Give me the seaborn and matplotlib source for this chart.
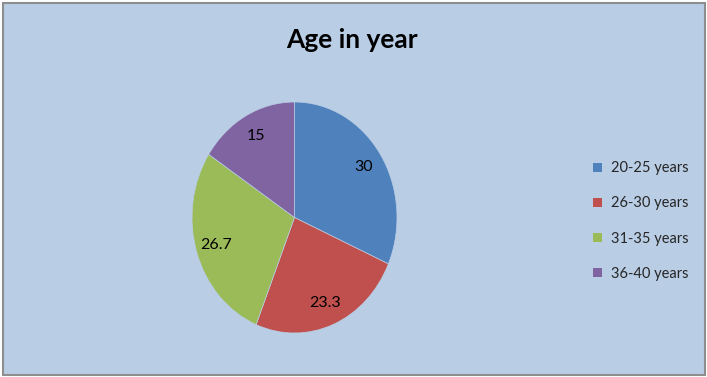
import matplotlib
matplotlib.use("Agg")
import matplotlib.pyplot as plt
from matplotlib.patches import Rectangle, Patch
import seaborn as sns

categories = ["20-25 years", "26-30 years", "31-35 years", "36-40 years"]
values = [30, 23.3, 26.7, 15]
colors = ["#4F81BD", "#C0504D", "#9BBB59", "#8064A2"]
title = "Age in year"

sns.set_style("white")
plt.rcParams["font.family"] = ["Lato", "DejaVu Sans"]

W, H = 707, 377
fig = plt.figure(figsize=(W / 100, H / 100), dpi=100, facecolor="white")

# chart area background with border
bg = Rectangle((2.5 / W, 2.5 / H), (W - 5) / W, (H - 5) / H,
               transform=fig.transFigure, facecolor="#B9CDE5",
               edgecolor="#8E8E8E", linewidth=1.5, zorder=-5)
fig.patches.append(bg)

ax = fig.add_axes([192 / W, (H - 333) / H, 205 / W, 231 / H])
ax.set_zorder(2)
ax.set_facecolor("none")
total = sum(values)
wedges, texts, autotexts = ax.pie(
    values, colors=colors, startangle=90, counterclock=False,
    autopct=lambda p: f"{p * total / 100:.3g}", pctdistance=0.8,
    wedgeprops=dict(linewidth=0.5, edgecolor="#B9CDE5"),
    textprops=dict(fontsize=11.5, color="black"))
ax.set_aspect("auto")
ax.set_xlim(-1, 1)
ax.set_ylim(-1, 1)
ax.axis("off")

fig.text(352 / W, 1 - 40 / H, title, ha="center", va="center",
         fontsize=19, fontweight="bold", color="black")

handles = [Patch(facecolor=c, edgecolor="none") for c in colors]
leg = fig.legend(handles, categories, loc="center left",
                 bbox_to_anchor=(580 / W, 1 - 221 / H), frameon=False,
                 fontsize=10.5, handlelength=0.6, handleheight=0.6,
                 handletextpad=0.6, labelspacing=1.45)
leg.set_zorder(3)

fig.savefig("out.png", dpi=100, facecolor="white")
